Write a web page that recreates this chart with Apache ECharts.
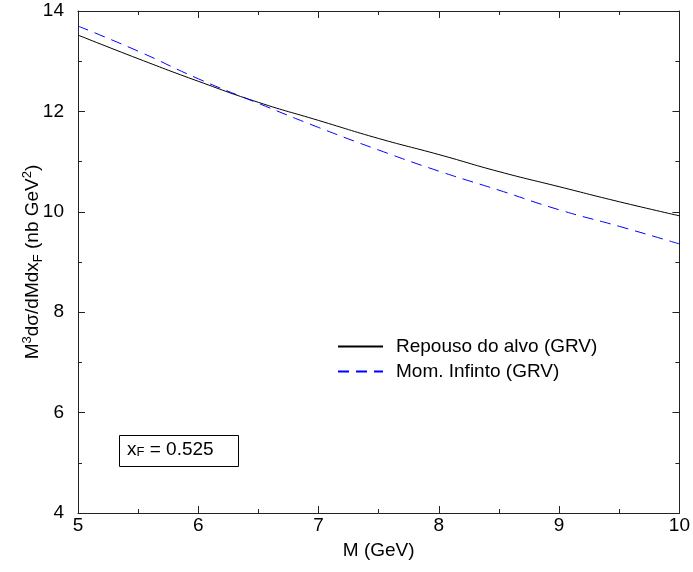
<!DOCTYPE html>
<html>
<head>
<meta charset="utf-8">
<script src="https://cdn.jsdelivr.net/npm/echarts@6/dist/echarts.min.js"></script>
<style>
html,body{margin:0;padding:0;background:#fff;}
#c{width:693px;height:572px;}
</style>
</head>
<body>
<div id="c"></div>
<script>
const massGeV = [5, 5.5, 6, 6.5, 7, 7.5, 8, 8.5, 9, 9.5, 10];
const repousoGRV = [13.52, 13.05, 12.60, 12.18, 11.82, 11.46, 11.14, 10.80, 10.50, 10.20, 9.92];
const infinitoGRV = [13.70, 13.20, 12.65, 12.16, 11.68, 11.23, 10.81, 10.43, 10.04, 9.71, 9.36];
const seriesNames = ['Repouso do alvo (GRV)', 'Mom. Infinto (GRV)'];
const xRange = [5, 10];
const yRange = [4, 14];

const FONT = 'Liberation Sans, Arial, sans-serif';
const FS = 19;
const chart = echarts.init(document.getElementById('c'));
const pairs = (xs, ys) => xs.map((x, i) => [x, ys[i]]);
const axisLineStyle = { color: '#222', width: 1 };

chart.setOption({
  animation: false,
  backgroundColor: '#fff',
  textStyle: { fontFamily: FONT },
  grid: { left: 78, right: 13, top: 11, bottom: 59, containLabel: false },
  xAxis: [{
    type: 'value', min: xRange[0], max: xRange[1], interval: 1,
    position: 'bottom',
    name: 'M (GeV)', nameLocation: 'middle', nameGap: 28,
    nameTextStyle: { fontSize: FS, color: '#000', fontFamily: FONT },
    axisLine: { show: true, lineStyle: axisLineStyle },
    axisTick: { inside: true, length: 7, lineStyle: axisLineStyle },
    minorTick: { show: true, splitNumber: 2, length: 4, lineStyle: axisLineStyle },
    axisLabel: { fontSize: FS, color: '#000', margin: 3, fontFamily: FONT },
    splitLine: { show: false }
  }, {
    type: 'value', min: xRange[0], max: xRange[1], interval: 1,
    position: 'top',
    axisLine: { show: true, lineStyle: axisLineStyle },
    axisTick: { inside: true, length: 7, lineStyle: axisLineStyle },
    minorTick: { show: true, splitNumber: 2, length: 4, lineStyle: axisLineStyle },
    axisLabel: { show: false },
    splitLine: { show: false }
  }],
  yAxis: [{
    type: 'value', min: yRange[0], max: yRange[1], interval: 2,
    position: 'left',
    name: 'M{sup|3}dσ/dMdx{sub|F} (nb GeV{sup|2})',
    nameLocation: 'middle', nameGap: 33, nameRotate: 90,
    nameMoveOverlap: false,
    nameTextStyle: {
      fontSize: FS, color: '#000', fontFamily: FONT, lineHeight: 24,
      rich: {
        sup: { fontSize: 13, verticalAlign: 'top', lineHeight: 13, color: '#000', fontFamily: FONT },
        sub: { fontSize: 13, verticalAlign: 'bottom', lineHeight: 13, color: '#000', fontFamily: FONT }
      }
    },
    axisLine: { show: true, lineStyle: axisLineStyle },
    axisTick: { inside: true, length: 7, lineStyle: axisLineStyle },
    minorTick: { show: true, splitNumber: 2, length: 4, lineStyle: axisLineStyle },
    axisLabel: { fontSize: FS, color: '#000', margin: 14, fontFamily: FONT },
    splitLine: { show: false }
  }, {
    type: 'value', min: yRange[0], max: yRange[1], interval: 2,
    position: 'right',
    axisLine: { show: true, lineStyle: axisLineStyle },
    axisTick: { inside: true, length: 7, lineStyle: axisLineStyle },
    minorTick: { show: true, splitNumber: 2, length: 4, lineStyle: axisLineStyle },
    axisLabel: { show: false },
    splitLine: { show: false }
  }],
  legend: {
    orient: 'vertical', left: 337, top: 337, padding: 0,
    itemWidth: 45, itemHeight: 14, itemGap: 6,
    itemStyle: { opacity: 0 },
    textStyle: { fontSize: FS, color: '#000', fontFamily: FONT, padding: [0, 0, 0, 8] },
    data: seriesNames
  },
  series: [{
    name: seriesNames[0], type: 'line', smooth: true, symbol: 'none',
    data: pairs(massGeV, repousoGRV),
    lineStyle: { color: '#000', width: 1, type: 'solid' },
    itemStyle: { color: '#000' }
  }, {
    name: seriesNames[1], type: 'line', smooth: true, symbol: 'none',
    data: pairs(massGeV, infinitoGRV),
    lineStyle: { color: '#0000ff', width: 1, type: [11, 7] },
    itemStyle: { color: '#0000ff' }
  }],
  graphic: [{
    type: 'rect', left: 119, top: 435,
    shape: { width: 119, height: 31 },
    style: { fill: '#fff', stroke: '#000', lineWidth: 1 }
  }, {
    type: 'text', left: 127, top: 440,
    style: {
      text: 'x{sub|F} = 0.525',
      font: FS + 'px ' + FONT, fill: '#000',
      rich: { sub: { fontSize: 13, verticalAlign: 'bottom', lineHeight: 13, fill: '#000' } }
    }
  }]
});
</script>
</body>
</html>
